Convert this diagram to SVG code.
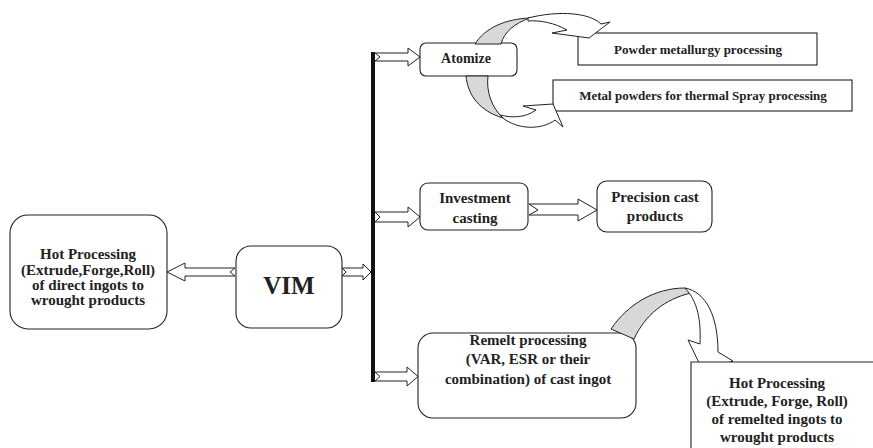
<svg xmlns="http://www.w3.org/2000/svg" width="873" height="448" viewBox="0 0 873 448">
<style>
.box{fill:#fff;stroke:#222;stroke-width:1.1}
.arr{fill:#fff;stroke:#222;stroke-width:1}
.back{fill:#d8d8d8;stroke:#222;stroke-width:1}
text{font-family:"Liberation Serif","Times New Roman",serif;font-weight:bold;fill:#222;text-anchor:middle}
.t13{font-size:13px}
.t14{font-size:14px}
.t15{font-size:15px}
.big{font-size:25px}
</style>
<rect width="873" height="448" fill="#fff"/>

<g id="connectors">
  <rect x="371" y="52" width="4" height="330" fill="#111"/>
  <polygon class="arr" points="375,53 408,53 408,48 420,57 408,66 408,61 375,61 380,57"/>
  <polygon class="arr" points="375,212 408,212 408,207 420,217 408,227 408,222 375,222 380,217"/>
  <polygon class="arr" points="529,204 578,204 578,199 597,210 578,221 578,215 529,215 538,210"/>
  <polygon class="arr" points="375,372 407,372 407,367 418,376.5 407,386 407,381 375,381 380,376.5"/>
  <polygon class="arr" points="342,268 363,268 363,264 371,272 363,280 363,276 342,276 346,272"/>
  <polygon class="arr" points="167,272 185,263 185,268 235,268 230,272 235,276 185,276 185,281"/>
</g>

<g id="hot-left">
  <rect class="box" x="10" y="215" width="157" height="114" rx="18"/>
  <text class="t15" x="88" y="259">Hot Processing</text>
  <text class="t15" x="88" y="275">(Extrude,Forge,Roll)</text>
  <text class="t15" x="88" y="290">of direct ingots to</text>
  <text class="t15" x="88" y="305">wrought products</text>
</g>

<g id="vim">
  <rect class="box" x="236" y="246" width="106" height="82" rx="15"/>
  <text class="big" x="289" y="294">VIM</text>
</g>

<g id="atomize">
  <rect class="box" x="420" y="43" width="97" height="33" rx="6"/>
  <text class="t14" x="466" y="63">Atomize</text>
</g>

<g id="powder">
  <rect class="box" x="578" y="33" width="239" height="32"/>
  <text class="t13" x="698" y="54">Powder metallurgy processing</text>
</g>

<g id="metal-powders">
  <rect class="box" x="553" y="80" width="299" height="31"/>
  <text class="t13" x="703" y="100">Metal powders for thermal Spray processing</text>
</g>

<g id="curved-up">
  <path class="back" d="M475,44 C485,28 505,19 530,18 C515,23 504,32 501,44 Z"/>
  <path class="arr" d="M528,18 C560,10 590,13 601,24 L610,22 L589,38 L552,33 L567,30 C555,23 540,20 528,21 Z"/>
</g>

<g id="curved-down">
  <path class="back" d="M466,76 C468,96 480,111 503,118 C492,108 486,92 488,76 Z"/>
  <path class="arr" d="M503,118 C518,130 542,130 555,120 L563,127 L553,104 L523,106 L536,110 C525,118 512,118 500,115 Z"/>
</g>

<g id="investment">
  <rect class="box" x="420" y="183" width="108" height="47" rx="8"/>
  <text class="t15" x="475" y="203">Investment</text>
  <text class="t15" x="475" y="223">casting</text>
</g>

<g id="precision">
  <rect class="box" x="597" y="181" width="115" height="51" rx="10"/>
  <text class="t15" x="655" y="202">Precision cast</text>
  <text class="t15" x="655" y="221">products</text>
</g>

<g id="remelt">
  <rect class="box" x="418" y="333" width="218" height="85" rx="15"/>
  <text class="t15" x="528" y="345">Remelt processing</text>
  <text class="t15" x="528" y="364">(VAR, ESR or their</text>
  <text class="t15" x="528" y="384">combination) of cast ingot</text>
</g>

<g id="curved-right">
  <path class="back" d="M611,329 C628,304 655,288 685,288 L691,293 C665,299 645,315 634,339 Z"/>
  <path class="arr" d="M685,288 C706,292 718,316 718,352 L733,361 L703,371 L688,340 L700,344 C701,320 698,302 685,288 Z"/>
</g>

<g id="hot-right">
  <path class="box" d="M691,448 V362 H873"/>
  <text class="t15" x="777" y="388">Hot Processing</text>
  <text class="t15" x="777" y="406">(Extrude, Forge, Roll)</text>
  <text class="t15" x="777" y="424">of remelted ingots to</text>
  <text class="t15" x="777" y="442">wrought products</text>
</g>
</svg>
